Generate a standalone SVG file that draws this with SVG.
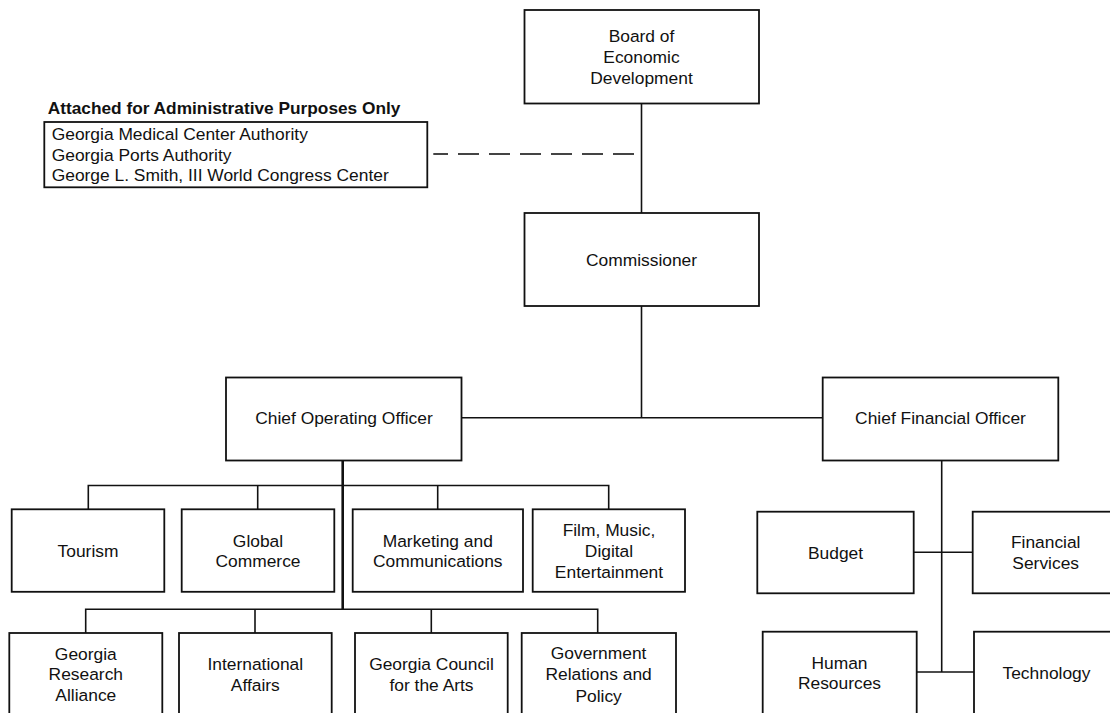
<svg xmlns="http://www.w3.org/2000/svg" width="1110" height="713" viewBox="0 0 1110 713">
<style>
.box{fill:#fff;stroke:#111;stroke-width:1.8}
.t{font-family:"Liberation Sans",Arial,sans-serif;font-size:17.4px;fill:#111;text-anchor:middle}
.tl{font-family:"Liberation Sans",Arial,sans-serif;font-size:17.4px;fill:#111}
.hd{font-family:"Liberation Sans",Arial,sans-serif;font-size:17.3px;font-weight:bold;fill:#111}
.ln{stroke:#111;stroke-width:1.6;fill:none}
.thick{stroke:#111;stroke-width:2.6;fill:none}
.dash{stroke:#444;stroke-width:2;fill:none;stroke-dasharray:21 10}
</style>
<rect width="1110" height="713" fill="#fff"/>
<g id="connectors">
<line class="ln" x1="641.5" y1="103.5" x2="641.5" y2="213"/>
<line class="ln" x1="641.5" y1="306" x2="641.5" y2="417.7"/>
<line class="ln" x1="461.5" y1="417.7" x2="822.7" y2="417.7"/>
<line class="dash" x1="634" y1="154" x2="433.3" y2="154"/>
<line class="thick" x1="342.7" y1="460.5" x2="342.7" y2="609.3"/>
<polyline class="ln" points="88.3,509.3 88.3,485.5 608.7,485.5 608.7,509.3"/>
<line class="ln" x1="257.7" y1="485.5" x2="257.7" y2="509.3"/>
<line class="ln" x1="437.7" y1="485.5" x2="437.7" y2="509.3"/>
<polyline class="ln" points="85.7,633 85.7,609.3 597.7,609.3 597.7,633"/>
<line class="ln" x1="255" y1="609.3" x2="255" y2="633"/>
<line class="ln" x1="431.3" y1="609.3" x2="431.3" y2="633"/>
<line class="ln" x1="941.7" y1="460.5" x2="941.7" y2="672"/>
<line class="ln" x1="913.7" y1="552.3" x2="972.7" y2="552.3"/>
<line class="ln" x1="916.7" y1="672" x2="974" y2="672"/>
</g>
<g id="attached">
<text class="hd" x="47.7" y="114">Attached for Administrative Purposes Only</text>
<rect class="box" x="44.3" y="122" width="383" height="65.3"/>
<text class="tl" x="51.7" y="140">Georgia Medical Center Authority</text>
<text class="tl" x="51.7" y="160.7">Georgia Ports Authority</text>
<text class="tl" x="51.7" y="181.4">George L. Smith, III World Congress Center</text>
</g>
<g id="board">
<rect class="box" x="524.5" y="10" width="234.5" height="93.5"/>
<text class="t" x="641.5" y="42.4">Board of</text>
<text class="t" x="641.5" y="63.1">Economic</text>
<text class="t" x="641.5" y="83.8">Development</text>
</g>
<g id="commissioner">
<rect class="box" x="524.5" y="213" width="234.5" height="93"/>
<text class="t" x="641.5" y="265.8">Commissioner</text>
</g>
<g id="coo">
<rect class="box" x="226" y="377.5" width="235.5" height="83"/>
<text class="t" x="344" y="424.3">Chief Operating Officer</text>
</g>
<g id="cfo">
<rect class="box" x="822.7" y="377.5" width="235.6" height="83"/>
<text class="t" x="940.5" y="424.3">Chief Financial Officer</text>
</g>
<g id="tourism">
<rect class="box" x="11.7" y="509.3" width="152.6" height="82.5"/>
<text class="t" x="88" y="556.6">Tourism</text>
</g>
<g id="global-commerce">
<rect class="box" x="181.7" y="509.3" width="152.6" height="82.5"/>
<text class="t" x="258" y="546.6">Global</text>
<text class="t" x="258" y="567.3">Commerce</text>
</g>
<g id="marketing">
<rect class="box" x="352.7" y="509.3" width="170.3" height="82.5"/>
<text class="t" x="437.8" y="546.8">Marketing and</text>
<text class="t" x="437.8" y="567.2">Communications</text>
</g>
<g id="film">
<rect class="box" x="532.7" y="509.3" width="152.3" height="82.5"/>
<text class="t" x="609" y="536.3">Film, Music,</text>
<text class="t" x="609" y="557">Digital</text>
<text class="t" x="609" y="577.7">Entertainment</text>
</g>
<g id="research-alliance">
<rect class="box" x="9.3" y="633" width="153" height="90"/>
<text class="t" x="85.8" y="659.5">Georgia</text>
<text class="t" x="85.8" y="680.2">Research</text>
<text class="t" x="85.8" y="700.9">Alliance</text>
</g>
<g id="international">
<rect class="box" x="179" y="633" width="152.7" height="90"/>
<text class="t" x="255.3" y="669.8">International</text>
<text class="t" x="255.3" y="690.5">Affairs</text>
</g>
<g id="council-arts">
<rect class="box" x="355" y="633" width="152.7" height="90"/>
<text class="t" x="431.5" y="669.8">Georgia Council</text>
<text class="t" x="431.5" y="690.5">for the Arts</text>
</g>
<g id="government-relations">
<rect class="box" x="521.7" y="633" width="154.3" height="90"/>
<text class="t" x="598.6" y="659.3">Government</text>
<text class="t" x="598.6" y="680.2">Relations and</text>
<text class="t" x="598.6" y="701.5">Policy</text>
</g>
<g id="budget">
<rect class="box" x="757.3" y="511.7" width="156.4" height="81.6"/>
<text class="t" x="835.5" y="558.7">Budget</text>
</g>
<g id="financial-services">
<rect class="box" x="972.7" y="511.7" width="160" height="81.6"/>
<text class="t" x="1045.7" y="548.3">Financial</text>
<text class="t" x="1045.7" y="569">Services</text>
</g>
<g id="human-resources">
<rect class="box" x="762.7" y="631.7" width="154" height="90"/>
<text class="t" x="839.5" y="668.6">Human</text>
<text class="t" x="839.5" y="689.3">Resources</text>
</g>
<g id="technology">
<rect class="box" x="974" y="631.7" width="160" height="90"/>
<text class="t" x="1046.5" y="678.5">Technology</text>
</g>
</svg>
